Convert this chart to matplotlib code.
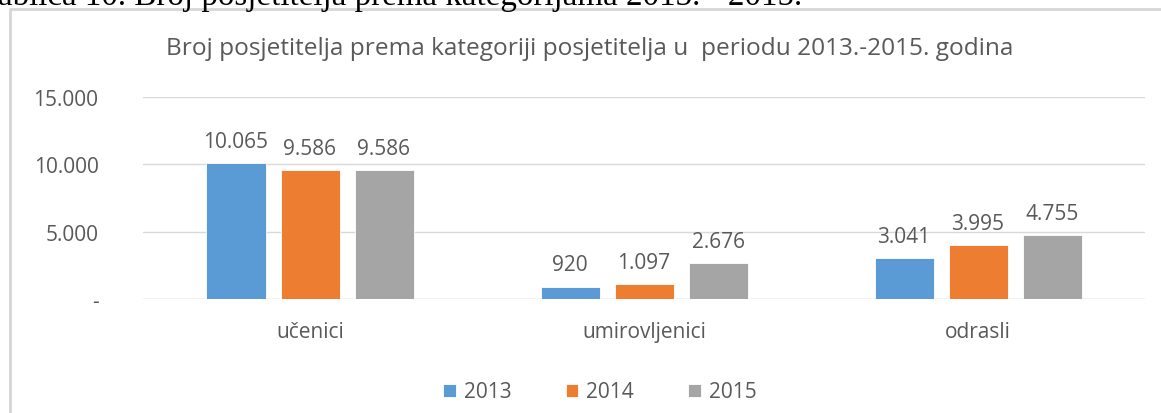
import numpy as np
import matplotlib.pyplot as plt
from matplotlib.lines import Line2D

categories = ["učenici", "umirovljenici", "odrasli"]
years = ["2013", "2014", "2015"]
values_2013 = [10065, 920, 3041]
values_2014 = [9586, 1097, 3995]
values_2015 = [9586, 2676, 4755]
y_ticks = [0, 5000, 10000, 15000]
y_tick_labels = ["-", "5.000", "10.000", "15.000"]

COLORS = ["#5B9BD5", "#ED7D31", "#A5A5A5"]
TEXT = "#595959"
GRID = "#D9D9D9"

plt.rcParams["font.family"] = ["Open Sans", "DejaVu Sans"]


def fmt(v):
    return f"{v:,}".replace(",", ".")


fig = plt.figure(figsize=(11.61, 4.14), dpi=100)
ax = fig.add_axes([143 / 1161, 1 - 300 / 414, 1002 / 1161, 202 / 414])

x = np.arange(len(categories))
width = 59 / 334
step = 74 / 334
series = [values_2013, values_2014, values_2015]

for i, (vals, year) in enumerate(zip(series, years)):
    pos = x + (i - 1) * step
    ax.bar(pos, vals, width, color=COLORS[i], edgecolor="white", linewidth=0.6,
           label=year, zorder=3)
    for px, v in zip(pos, vals):
        ax.annotate(fmt(v), (px, v), xytext=(0, 8), textcoords="offset points",
                    ha="center", va="bottom", fontsize=15, color=TEXT)

ax.set_xlim(-0.5, 2.5)
ax.set_ylim(0, 15000)
ax.set_yticks(y_ticks)
ax.set_yticklabels(y_tick_labels)
ax.set_xticks(x)
ax.set_xticklabels(categories)
ax.tick_params(axis="y", length=0, pad=32, labelsize=15, labelcolor=TEXT)
ax.tick_params(axis="x", length=0, pad=16, labelsize=15, labelcolor=TEXT)
ax.grid(axis="y", color=GRID, linewidth=1, zorder=0)
for s in ax.spines.values():
    s.set_visible(False)
ax.axhline(0, color=GRID, linewidth=1, zorder=2)

fig.text(590 / 1161, 1 - 49 / 414,
         "Broj posjetitelja prema kategoriji posjetitelja u  periodu 2013.-2015. godina",
         ha="center", va="center", fontsize=17.6, color=TEXT)

ax.legend(loc="center", bbox_to_anchor=(600 / 1161, 1 - 393 / 414),
          bbox_transform=fig.transFigure, ncol=3, frameon=False,
          fontsize=15, labelcolor=TEXT, handlelength=0.6, handleheight=0.6,
          columnspacing=2.6, handletextpad=0.4)

# chart border (cut off by the page crop)
fig.add_artist(Line2D([10 / 1161, 10 / 1161, 1.0], [0, 1 - 10 / 414, 1 - 10 / 414],
                      transform=fig.transFigure, color="#D6D6D6", linewidth=2))

# caption from the document, mostly above the crop
fig.text(-20 / 1161, 1 - 5 / 414,
         "Tablica 10. Broj posjetitelja prema kategorijama 2013. - 2015.",
         ha="left", va="baseline", fontsize=23.8, color="black",
         family="Liberation Serif")

fig.savefig("out.png", dpi=100)
